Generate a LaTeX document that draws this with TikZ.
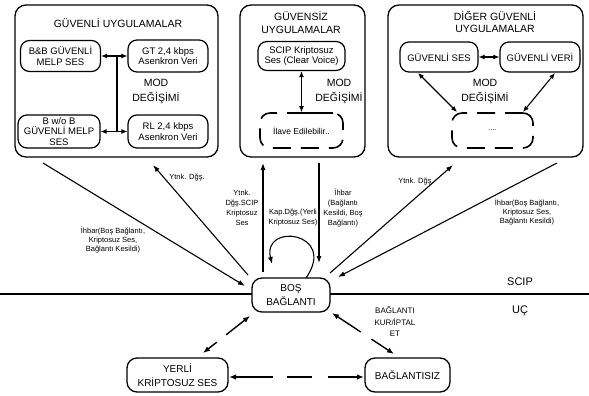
\documentclass[tikz,border=0pt]{standalone}
\usepackage{fontspec}
\setmainfont{Liberation Sans}
\usetikzlibrary{arrows.meta}
\begin{document}
\begin{tikzpicture}[x=1pt,y=-1pt,
  bigbox/.style={draw, line width=1.3pt, rounded corners=11pt, inner sep=0pt},
  inbox/.style={draw, line width=1.2pt, rounded corners=9pt, inner sep=0pt, align=center, font=\fontsize{9.5}{10.5}\selectfont},
  dbox/.style={draw, line width=1.6pt, rounded corners=10pt, inner sep=0pt, align=center, dash pattern=on 18pt off 10pt},
  ttl/.style={align=center, font=\fontsize{10.5}{12.5}\selectfont},
  modl/.style={align=center, font=\fontsize{10.5}{15}\selectfont},
  lbl/.style={align=center, font=\fontsize{7.5}{8.8}\selectfont, inner sep=0pt},
  lblm/.style={align=center, font=\fontsize{7.5}{10}\selectfont, inner sep=0pt},
  arr/.style={line width=1.1pt, -{Latex[length=7pt,width=5pt]}},
  darr/.style={line width=1.1pt, {Latex[length=6pt,width=5pt]}-{Latex[length=6pt,width=5pt]}},
  bdarr/.style={line width=1.4pt, {Latex[length=7pt,width=5.5pt]}-{Latex[length=7pt,width=5.5pt]}},
  state/.style={draw, fill=white, line width=1.3pt, rounded corners=10pt, inner sep=0pt, align=center, font=\fontsize{10}{14}\selectfont}
]
\useasboundingbox (0,0) rectangle (589,396);

% horizontal separator
\coordinate (hl) at (0,294);
\coordinate (hr) at (589,294);
\draw[line width=1.5pt] (hl) -- (hr);
\node[font=\fontsize{11}{13}\selectfont] (scip) at (520,282) {SCIP};
\node[font=\fontsize{11}{13}\selectfont] (uc) at (520,311) {UÇ};

% ---------- left box
\node[bigbox, minimum width=203pt, minimum height=152pt] (L) at (116.5,81) {};
\node[ttl] (Lt) at (118,23) {GÜVENLİ UYGULAMALAR};
\node[inbox, minimum width=80pt, minimum height=31pt] (bb) at (60.5,56) {B\&B GÜVENLİ\\MELP SES};
\node[inbox, minimum width=80pt, minimum height=32pt] (gt) at (168,56) {GT 2,4 kbps\\Asenkron Veri};
\node[inbox, minimum width=82pt, minimum height=33pt] (bwo) at (59,131.5) {B w/o B\\GÜVENLİ MELP\\SES};
\node[inbox, minimum width=80pt, minimum height=33pt] (rl) at (168,131.5) {RL 2,4 kbps\\Asenkron Veri};
\node[modl] (Lm) at (156,91) {MOD\\DEĞİŞİMİ};
\draw[darr] (bb) -- (gt);
\draw[darr] (bwo) -- (rl);
\coordinate (v1) at (117,56);
\coordinate (v2) at (117,131.5);
\draw[line width=1.1pt] (v1) -- (v2);

% ---------- middle box
\node[bigbox, minimum width=125pt, minimum height=152pt] (M) at (302.5,81) {};
\node[ttl] (Mt) at (301,22.5) {GÜVENSİZ\\UYGULAMALAR};
\node[inbox, minimum width=87pt, minimum height=29pt] (sc) at (301.5,56) {SCIP Kriptosuz\\Ses (Clear Voice)};
\node[dbox, minimum width=83pt, minimum height=35pt, font=\fontsize{8.5}{10}\selectfont] (d1) at (301.5,130.5) {İlave Edilebilir..};
\node[modl] (Mm) at (339,91) {MOD\\DEĞİŞİMİ};
\draw[darr] (sc.south) -- (d1.north);
\coordinate (tb1) at (288,113);
\coordinate (tb2) at (315,113);
\draw[line width=1.6pt] (tb1) -- (tb2);

% ---------- right box
\node[bigbox, minimum width=195pt, minimum height=152pt] (R) at (485.5,81) {};
\node[ttl] (Rt) at (495,22) {DİĞER GÜVENLİ\\UYGULAMALAR};
\node[inbox, minimum width=78pt, minimum height=30pt] (gs) at (439,57) {GÜVENLİ SES};
\node[inbox, minimum width=80pt, minimum height=30pt] (gv) at (540,57) {GÜVENLİ VERİ};
\node[dbox, minimum width=81pt, minimum height=35pt, font=\fontsize{7}{8}\selectfont] (d2) at (492.5,130.5) {....};
\node[modl] (Rm) at (485,91) {MOD\\DEĞİŞİMİ};
\draw[darr] (gs) -- (gv);
\coordinate (gsb) at (418,73);
\coordinate (d2a) at (457,112);
\coordinate (gvb) at (555,73);
\coordinate (d2b) at (523,112);
\draw[darr] (gsb) -- (d2a);
\draw[darr] (gvb) -- (d2b);

% ---------- states
\node[state, minimum width=78pt, minimum height=34pt] (bos) at (291,295) {BOŞ\\BAĞLANTI};
\node[state, minimum width=101pt, minimum height=34pt] (yer) at (177.5,375) {YERLİ\\KRİPTOSUZ SES};
\node[state, minimum width=85pt, minimum height=34pt] (bsz) at (407.5,375) {BAĞLANTISIZ};

% ---------- top connectors
\coordinate (p1s) at (43,163);   \coordinate (p1e) at (245,286);
\coordinate (p2s) at (248,275);  \coordinate (p2e) at (153,165);
\coordinate (p3s) at (263,272);  \coordinate (p3e) at (263,163);
\coordinate (p4s) at (306,278);  \coordinate (p4e) at (272,264);
\coordinate (p5s) at (319,163);  \coordinate (p5e) at (319,263);
\coordinate (p6s) at (330,273);  \coordinate (p6e) at (453,165);
\coordinate (p7s) at (557,163);  \coordinate (p7e) at (338,277);

\draw[arr] (p1s) -- (p1e);
\draw[arr] (p2s) -- (p2e);
\draw[arr] (p3s) -- (p3e);
\draw[arr] (p4s) .. controls (338,232) and (262,222) .. (p4e);
\draw[arr] (p5s) -- (p5e);
\draw[arr] (p6s) -- (p6e);
\draw[arr] (p7s) -- (p7e);

\node[lbl] (t1) at (113,240) {İhbar(Boş Bağlantı,\\Kriptosuz Ses,\\Bağlantı Kesildi)};
\node[lbl] (t2) at (187,178) {Ytnk. Dğş.};
\node[lblm] (t3) at (242,208) {Ytnk.\\Dğş.SCIP\\Kriptosuz\\Ses};
\node[lblm] (t4) at (293,218) {Kap.Dğş.(Yerli\\Kriptosuz Ses)};
\node[lblm] (t5) at (343,208) {İhbar\\(Bağlantı\\Kesildi, Boş\\Bağlantı)};
\node[lbl] (t6) at (416,182) {Ytnk. Dğş.};
\node[lbl] (t7) at (527,212) {İhbar(Boş Bağlantı,\\Kriptosuz Ses,\\Bağlantı Kesildi)};

% ---------- bottom connectors
\coordinate (q1a) at (250,316); \coordinate (q1b) at (203,353);
\coordinate (q2a) at (332,313); \coordinate (q2b) at (394,354);
\coordinate (q3a) at (229,377); \coordinate (q3b) at (364,377);
\draw[bdarr, dash pattern=on 24pt off 12pt] (q1a) -- (q1b);
\draw[bdarr, dash pattern=on 28pt off 13pt] (q2a) -- (q2b);
\draw[bdarr, dash pattern=on 38pt off 14pt on 25pt off 16pt] (q3a) -- (q3b);
\node[lblm, font=\fontsize{8}{11.5}\selectfont] (t8) at (395,322) {BAĞLANTI\\KUR/İPTAL\\ET};
\end{tikzpicture}
\end{document}
